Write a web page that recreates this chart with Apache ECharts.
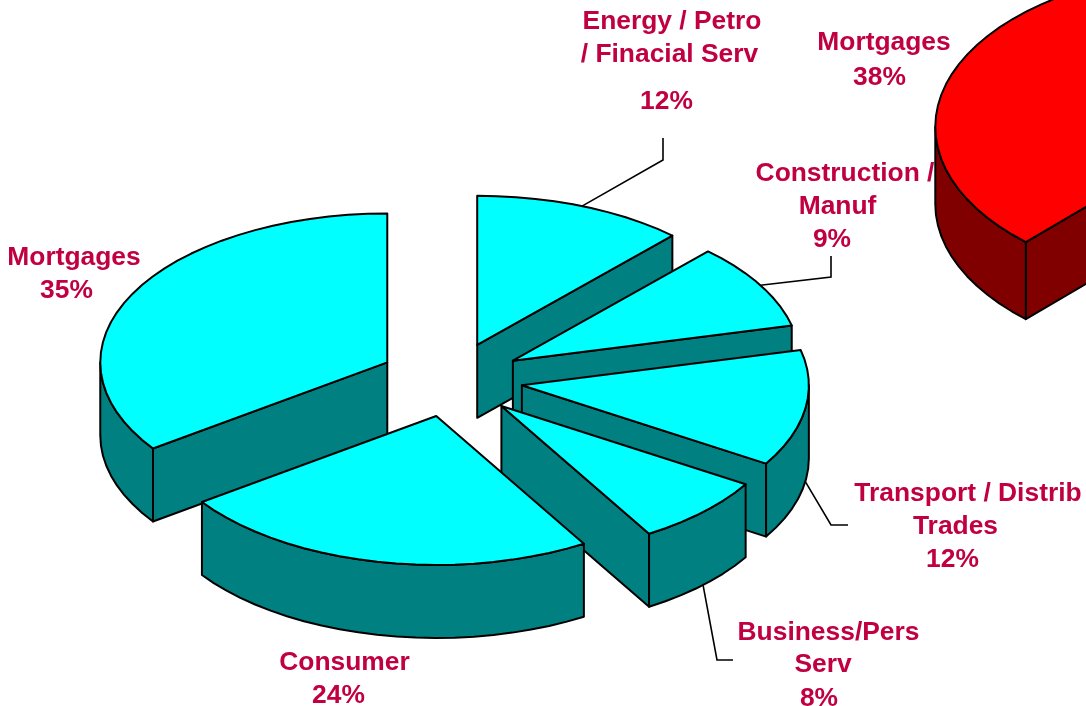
<!DOCTYPE html>
<html>
<head>
<meta charset="utf-8">
<title>Loan mix</title>
<style>
html, body { margin: 0; padding: 0; background: #fff; }
#chart { width: 1086px; height: 706px; }
</style>
<script src="https://cdn.jsdelivr.net/npm/echarts@6/dist/echarts.min.js"></script>
</head>
<body>
<div id="chart"></div>
<script>
// clockwise from 12 o'clock
const categories = ['Energy / Petro / Finacial Serv', 'Construction / Manuf', 'Transport / Distrib Trades', 'Business/Pers Serv', 'Consumer', 'Mortgages'];
const sliceValues = [11.9, 9.3, 12.6, 7.6, 23.8, 34.8];
const percentLabels = ['12%', '9%', '12%', '8%', '24%', '35%'];

// second pie, only its mortgages slice falls inside the picture
const otherCategories = ['Mortgages'];
const otherValues = [38];
const otherPercentLabels = ['38%'];

const labelLines = [
	['Energy / Petro', '/ Finacial Serv', null],
	['Construction /', 'Manuf', null],
	['Transport / Distrib', 'Trades', null],
	['Business/Pers', 'Serv', null],
	['Consumer', null],
	['Mortgages', null]
];
const otherLabelLines = [['Mortgages', null]];

// layout
const W = 1086, H = 706;
const EXPLODE = 0.25;
const PIES = [
	{ cx: 451, cy: 379.5, rx: 287, ry: 149, depth: 73, startAngle: 0, top: '#00ffff', side: '#008080' },
	{ cx: 1289, cy: 141.5, rx: 287, ry: 158, depth: 77, startAngle: 360 - 136.8, top: '#ff0000', side: '#800000' }
];
const LABEL_POS = [
	{ xs: [672, 669.5, 666.5], ys: [22, 55, 102] },
	{ xs: [845, 837.5, 832], ys: [174, 207, 240] },
	{ xs: [968, 955.5, 952.5], ys: [494, 527, 560] },
	{ xs: [828.5, 823, 819], ys: [633, 665, 699] },
	{ xs: [344.5, 338.5], ys: [663, 696] },
	{ xs: [74, 66.5], ys: [258, 291] }
];
const OTHER_LABEL_POS = [{ xs: [884, 879.5], ys: [43, 78] }];
const LEADER_ELBOWS = [
	[[663, 160], [663, 138]],
	[[831, 277], [831, 256]],
	[[831, 525], [848, 525]],
	[[717, 660], [733, 660]],
	null,
	null
];
const TEXT_COLOR = '#c00040';
const LABEL_FONT = 'bold 26.4px "Liberation Sans", Arial, sans-serif';

const rad = d => d * Math.PI / 180;

function buildRows(values, pie) {
	let p = PIES[pie];
	let angle = p.startAngle;
	return values.map((v, i) => {
		let start = angle, end = angle + v * 3.6;
		angle = end;
		let mid = (start + end) / 2;
		return {
			pie, i, start, end, mid,
			ax: p.cx + EXPLODE * p.rx * Math.sin(rad(mid)),
			ay: p.cy - EXPLODE * p.ry * Math.cos(rad(mid))
		};
	});
}

const mainRows = buildRows(sliceValues, 0);
const otherRows = buildRows(otherValues, 1);
// back to front
const rows = mainRows.concat(otherRows).sort((a, b) => a.ay - b.ay);

function rim(r, a, drop) {
	let p = PIES[r.pie];
	return [r.ax + p.rx * Math.sin(rad(a)), r.ay - p.ry * Math.cos(rad(a)) + (drop || 0)];
}

function arcPoints(r, from, to, drop) {
	let pts = [];
	let n = Math.max(1, Math.ceil((to - from) / 4));
	for (let k = 0; k <= n; k++) pts.push(rim(r, from + (to - from) * k / n, drop));
	return pts;
}

function renderSlice(params, api) {
	let r = rows[params.dataIndex];
	let pie = PIES[r.pie];
	let depth = pie.depth;
	let toPx = pts => pts.map(p => api.coord(p));
	let poly = (pts, fill) => ({
		type: 'polygon',
		shape: { points: toPx(pts) },
		style: { fill: fill, stroke: '#000', lineWidth: 2, lineJoin: 'round' }
	});
	let apex = [r.ax, r.ay], apexLow = [r.ax, r.ay + depth];
	let children = [];

	if (Math.sin(rad(r.start)) < -0.001) {
		children.push(poly([apex, rim(r, r.start), rim(r, r.start, depth), apexLow], pie.side));
	}
	if (Math.sin(rad(r.end)) > 0.001) {
		children.push(poly([apex, rim(r, r.end), rim(r, r.end, depth), apexLow], pie.side));
	}
	// outer wall, front half of the rim only
	let from = Math.max(r.start, 90), to = Math.min(r.end, 270);
	if (to > from) {
		children.push(poly(arcPoints(r, from, to, 0).concat(arcPoints(r, from, to, depth).reverse()), pie.side));
	}
	children.push(poly([apex].concat(arcPoints(r, r.start, r.end, 0)), pie.top));
	return { type: 'group', children: children };
}

// labels and leaders sit under the pies, the red one covers part of a label
const labelRows = mainRows.map((r, i) => ({
	row: r,
	lines: labelLines[i].map(l => l === null ? percentLabels[i] : l),
	pos: LABEL_POS[i],
	elbow: LEADER_ELBOWS[i]
})).concat(otherRows.map((r, i) => ({
	row: r,
	lines: otherLabelLines[i].map(l => l === null ? otherPercentLabels[i] : l),
	pos: OTHER_LABEL_POS[i],
	elbow: null
})));

function renderLabel(params, api) {
	let item = labelRows[params.dataIndex];
	let children = item.lines.map((line, k) => {
		let p = api.coord([item.pos.xs[k], item.pos.ys[k]]);
		return {
			type: 'text',
			style: {
				text: line, x: p[0], y: p[1],
				fill: TEXT_COLOR, font: LABEL_FONT,
				textAlign: 'center', textVerticalAlign: 'middle'
			}
		};
	});
	if (item.elbow) {
		let r = item.row;
		let first = rim(r, r.mid, Math.cos(rad(r.mid)) < 0 ? PIES[r.pie].depth : 0);
		children.push({
			type: 'polyline',
			shape: { points: [first].concat(item.elbow).map(p => api.coord(p)) },
			style: { fill: 'none', stroke: '#000', lineWidth: 1.6 }
		});
	}
	return { type: 'group', children: children };
}

let chart = echarts.init(document.getElementById('chart'), null, { renderer: 'canvas' });
chart.setOption({
	animation: false,
	backgroundColor: '#fff',
	grid: { left: 0, right: 0, top: 0, bottom: 0 },
	xAxis: { type: 'value', min: 0, max: W, show: false },
	yAxis: { type: 'value', min: 0, max: H, inverse: true, show: false },
	series: [{
		type: 'custom',
		name: 'labels',
		z: 1,
		silent: true,
		clip: false,
		renderItem: renderLabel,
		data: labelRows.map((d, i) => [i])
	}, {
		type: 'custom',
		name: 'slices',
		z: 2,
		silent: true,
		clip: false,
		renderItem: renderSlice,
		data: rows.map((r, i) => [i])
	}]
});
</script>
</body>
</html>
